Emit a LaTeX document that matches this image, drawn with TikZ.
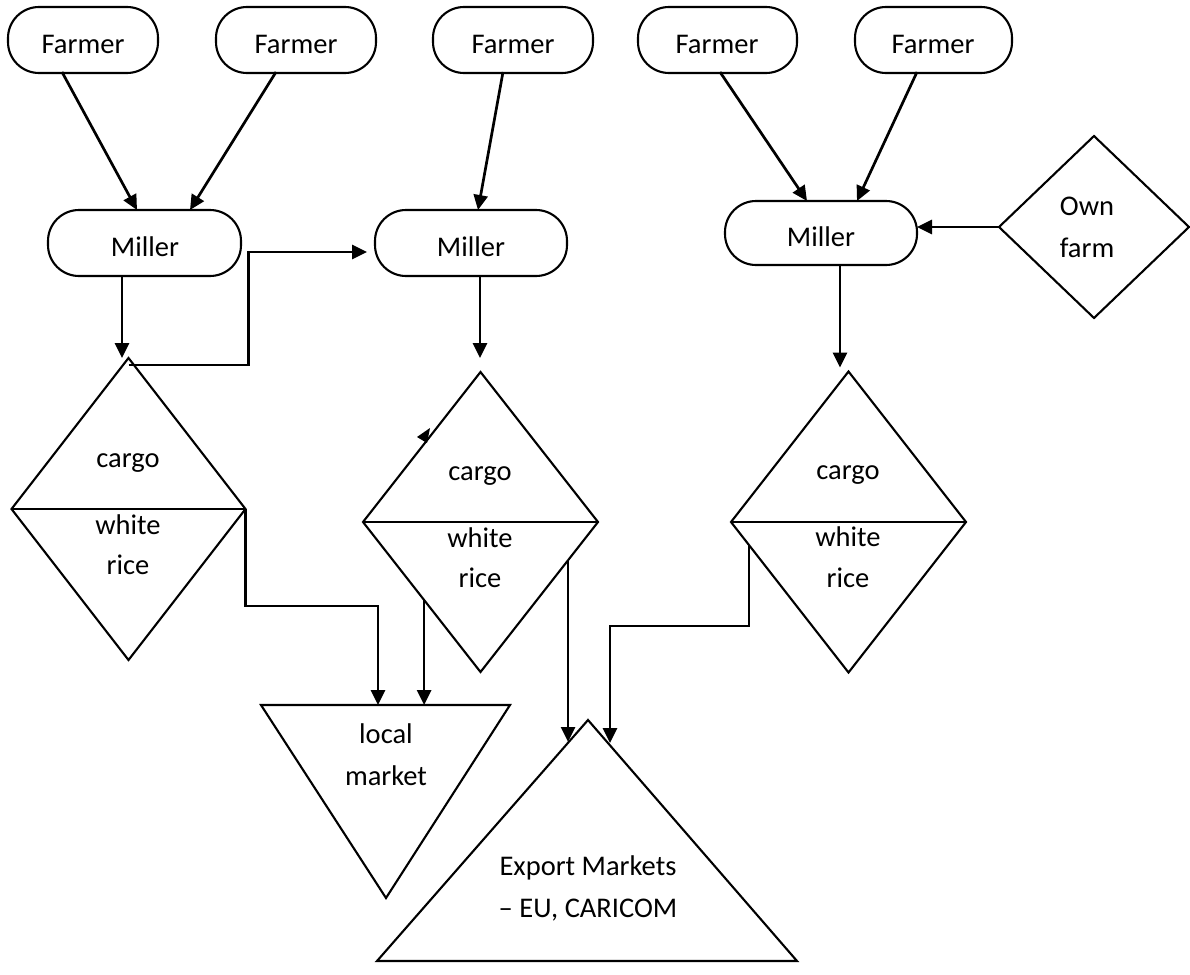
\documentclass[tikz,border=0pt]{standalone}
\usepackage{fontspec}
\setmainfont{Carlito}
\usetikzlibrary{shapes.geometric,arrows.meta,calc}
\begin{document}
\begin{tikzpicture}[x=1pt,y=-1pt,
  outline/.style={draw=black, line width=2.1pt, outer sep=0pt},
  pill/.style={outline, rectangle, rounded corners=31pt, minimum width=#1,
    minimum height=66pt, inner sep=0pt},
  pill/.default=160pt,
  rhomb/.style n args={2}{outline, diamond, inner sep=0pt, minimum width=#1,
    minimum height=#2},
  flow/.style={draw=black, line width=2.7pt, line join=miter,
    -{Triangle[length=15pt,width=14pt]}},
  lbl/.style={anchor=base, inner sep=0pt, font=\fontsize{28.5}{34}\selectfont}
]
\useasboundingbox (0,0) rectangle (1190,974);

% ---- farmers ----
\node[pill=150pt] (f1) at (83,40) {};
\node[pill=160pt] (f2) at (296,40) {};
\node[pill=160pt] (f3) at (513,40) {};
\node[pill=159pt] (f4) at (717.5,40) {};
\node[pill=157pt] (f5) at (933.5,40) {};
\node[lbl] (tf1) at (83,53) {Farmer};
\node[lbl] (tf2) at (296,53) {Farmer};
\node[lbl] (tf3) at (513,53) {Farmer};
\node[lbl] (tf4) at (717,53) {Farmer};
\node[lbl] (tf5) at (933,53) {Farmer};

% ---- millers ----
\node[pill=193pt] (m1) at (144.5,243) {};
\node[pill=192pt] (m2) at (471,243) {};
\node[pill=192pt, minimum height=64pt] (m3) at (821,233) {};
\node[lbl] (tm1) at (145,256) {Miller};
\node[lbl] (tm2) at (471,256) {Miller};
\node[lbl] (tm3) at (821,246) {Miller};

% ---- own farm ----
\node[rhomb={190pt}{182pt}] (own) at (1094,227) {};
\node[lbl] (town1) at (1087,215) {Own};
\node[lbl] (town2) at (1087,257) {farm};

% ---- cargo / white rice diamonds ----
\node[rhomb={234pt}{302pt}] (d1) at (128.5,509) {};
\node[rhomb={235pt}{300pt}] (d2) at (480.5,522) {};
\node[rhomb={235pt}{301pt}] (d3) at (848.5,522) {};
\foreach \d in {d1,d2,d3} \draw[outline] (\d.west) -- (\d.east);
\node[lbl] (c1) at (128,467) {cargo};
\node[lbl] (w1) at (128,534) {white};
\node[lbl] (r1) at (128,574) {rice};
\node[lbl] (c2) at (480,480) {cargo};
\node[lbl] (w2) at (480,547) {white};
\node[lbl] (r2) at (480,587) {rice};
\node[lbl] (c3) at (848,479) {cargo};
\node[lbl] (w3) at (848,546) {white};
\node[lbl] (r3) at (848,587) {rice};

% ---- markets ----
\coordinate (lmTL) at (261,705);
\coordinate (lmTR) at (510,705);
\coordinate (lmB) at (386,898);
\draw[outline] (lmTL) -- (lmTR) -- (lmB) -- cycle;
\node[lbl] (tlm1) at (386,743) {local};
\node[lbl] (tlm2) at (386,785) {market};

\coordinate (emA) at (588,720);
\coordinate (emL) at (377,961);
\coordinate (emR) at (797,961);
\draw[outline] (emA) -- (emR) -- (emL) -- cycle;
\node[lbl] (tem1) at (588,875) {Export Markets};
\node[lbl] (tem2) at (588,917) {– EU, CARICOM};

% ---- connector end points ----
\coordinate (f1out) at ($(f1.south)+(-21,-1)$);
\coordinate (f2out) at ($(f2.south)+(-20,-1)$);
\coordinate (f3out) at ($(f3.south)+(-10,-1)$);
\coordinate (f4out) at ($(f4.south)+(2.5,-1)$);
\coordinate (f5out) at ($(f5.south)+(-16.5,-1)$);
\coordinate (m1inA) at ($(m1.north)+(-7.5,0)$);
\coordinate (m1inB) at ($(m1.north)+(45.5,0)$);
\coordinate (m2inT) at ($(m2.north)+(7,0)$);
\coordinate (m3inA) at ($(m3.north)+(-14,0)$);
\coordinate (m3inB) at ($(m3.north)+(36,0)$);
\coordinate (m1out) at ($(m1.south)+(-22.5,0)$);
\coordinate (m2out) at ($(m2.south)+(9,0)$);
\coordinate (m3out) at ($(m3.south)+(19,0)$);
\coordinate (d1in) at ($(d1.north)+(-6,0)$);
\coordinate (d2in) at ($(d2.north)+(0,-14)$);
\coordinate (d3in) at ($(d3.north)+(0,-4)$);
\coordinate (d1top) at ($(d1.north)+(0,7)$);
\coordinate (m2inL) at ($(m2.west)+(-8,9)$);
\coordinate (d2ll) at ($(d2.west)!0.52!(d2.south)$);
\coordinate (d2lr) at ($(d2.east)!0.255!(d2.south)$);
\coordinate (d3ll) at ($(d3.west)!0.153!(d3.south)$);
\coordinate (lmIn1) at (378,705);
\coordinate (lmIn2) at (424,705);
\coordinate (emIn1) at (568,742);
\coordinate (emIn2) at (610,743);

% ---- connectors ----
\draw[flow] (f1out) -- (m1inA);
\draw[flow] (f2out) -- (m1inB);
\draw[flow] (f3out) -- (m2inT);
\draw[flow] (f4out) -- (m3inA);
\draw[flow] (f5out) -- (m3inB);
\draw[flow] (own.west) -- (own.west -| m3.east);
\draw[flow] (m1out) -- (m1out |- d1in);
\draw[flow] (m2out) -- (m2out |- d2in);
\draw[flow] (m3out) -- (m3out |- d3in);
\draw[flow] (d1top) -- ++(120,0) |- (m2inL);
\draw[flow] (d1.east) -- ++(0,97) -| (lmIn1);
\draw[flow] (d2ll) -- (d2ll |- lmIn2);
\draw[flow] (d2lr) -- (d2lr |- emIn1);
\draw[flow] (d3ll) -- ++(0,81) -| (emIn2);

% small arrow tip sitting on the left edge of the middle diamond
\fill (417,437) -- (430,428) -- (427,443) -- cycle;
\end{tikzpicture}
\end{document}
